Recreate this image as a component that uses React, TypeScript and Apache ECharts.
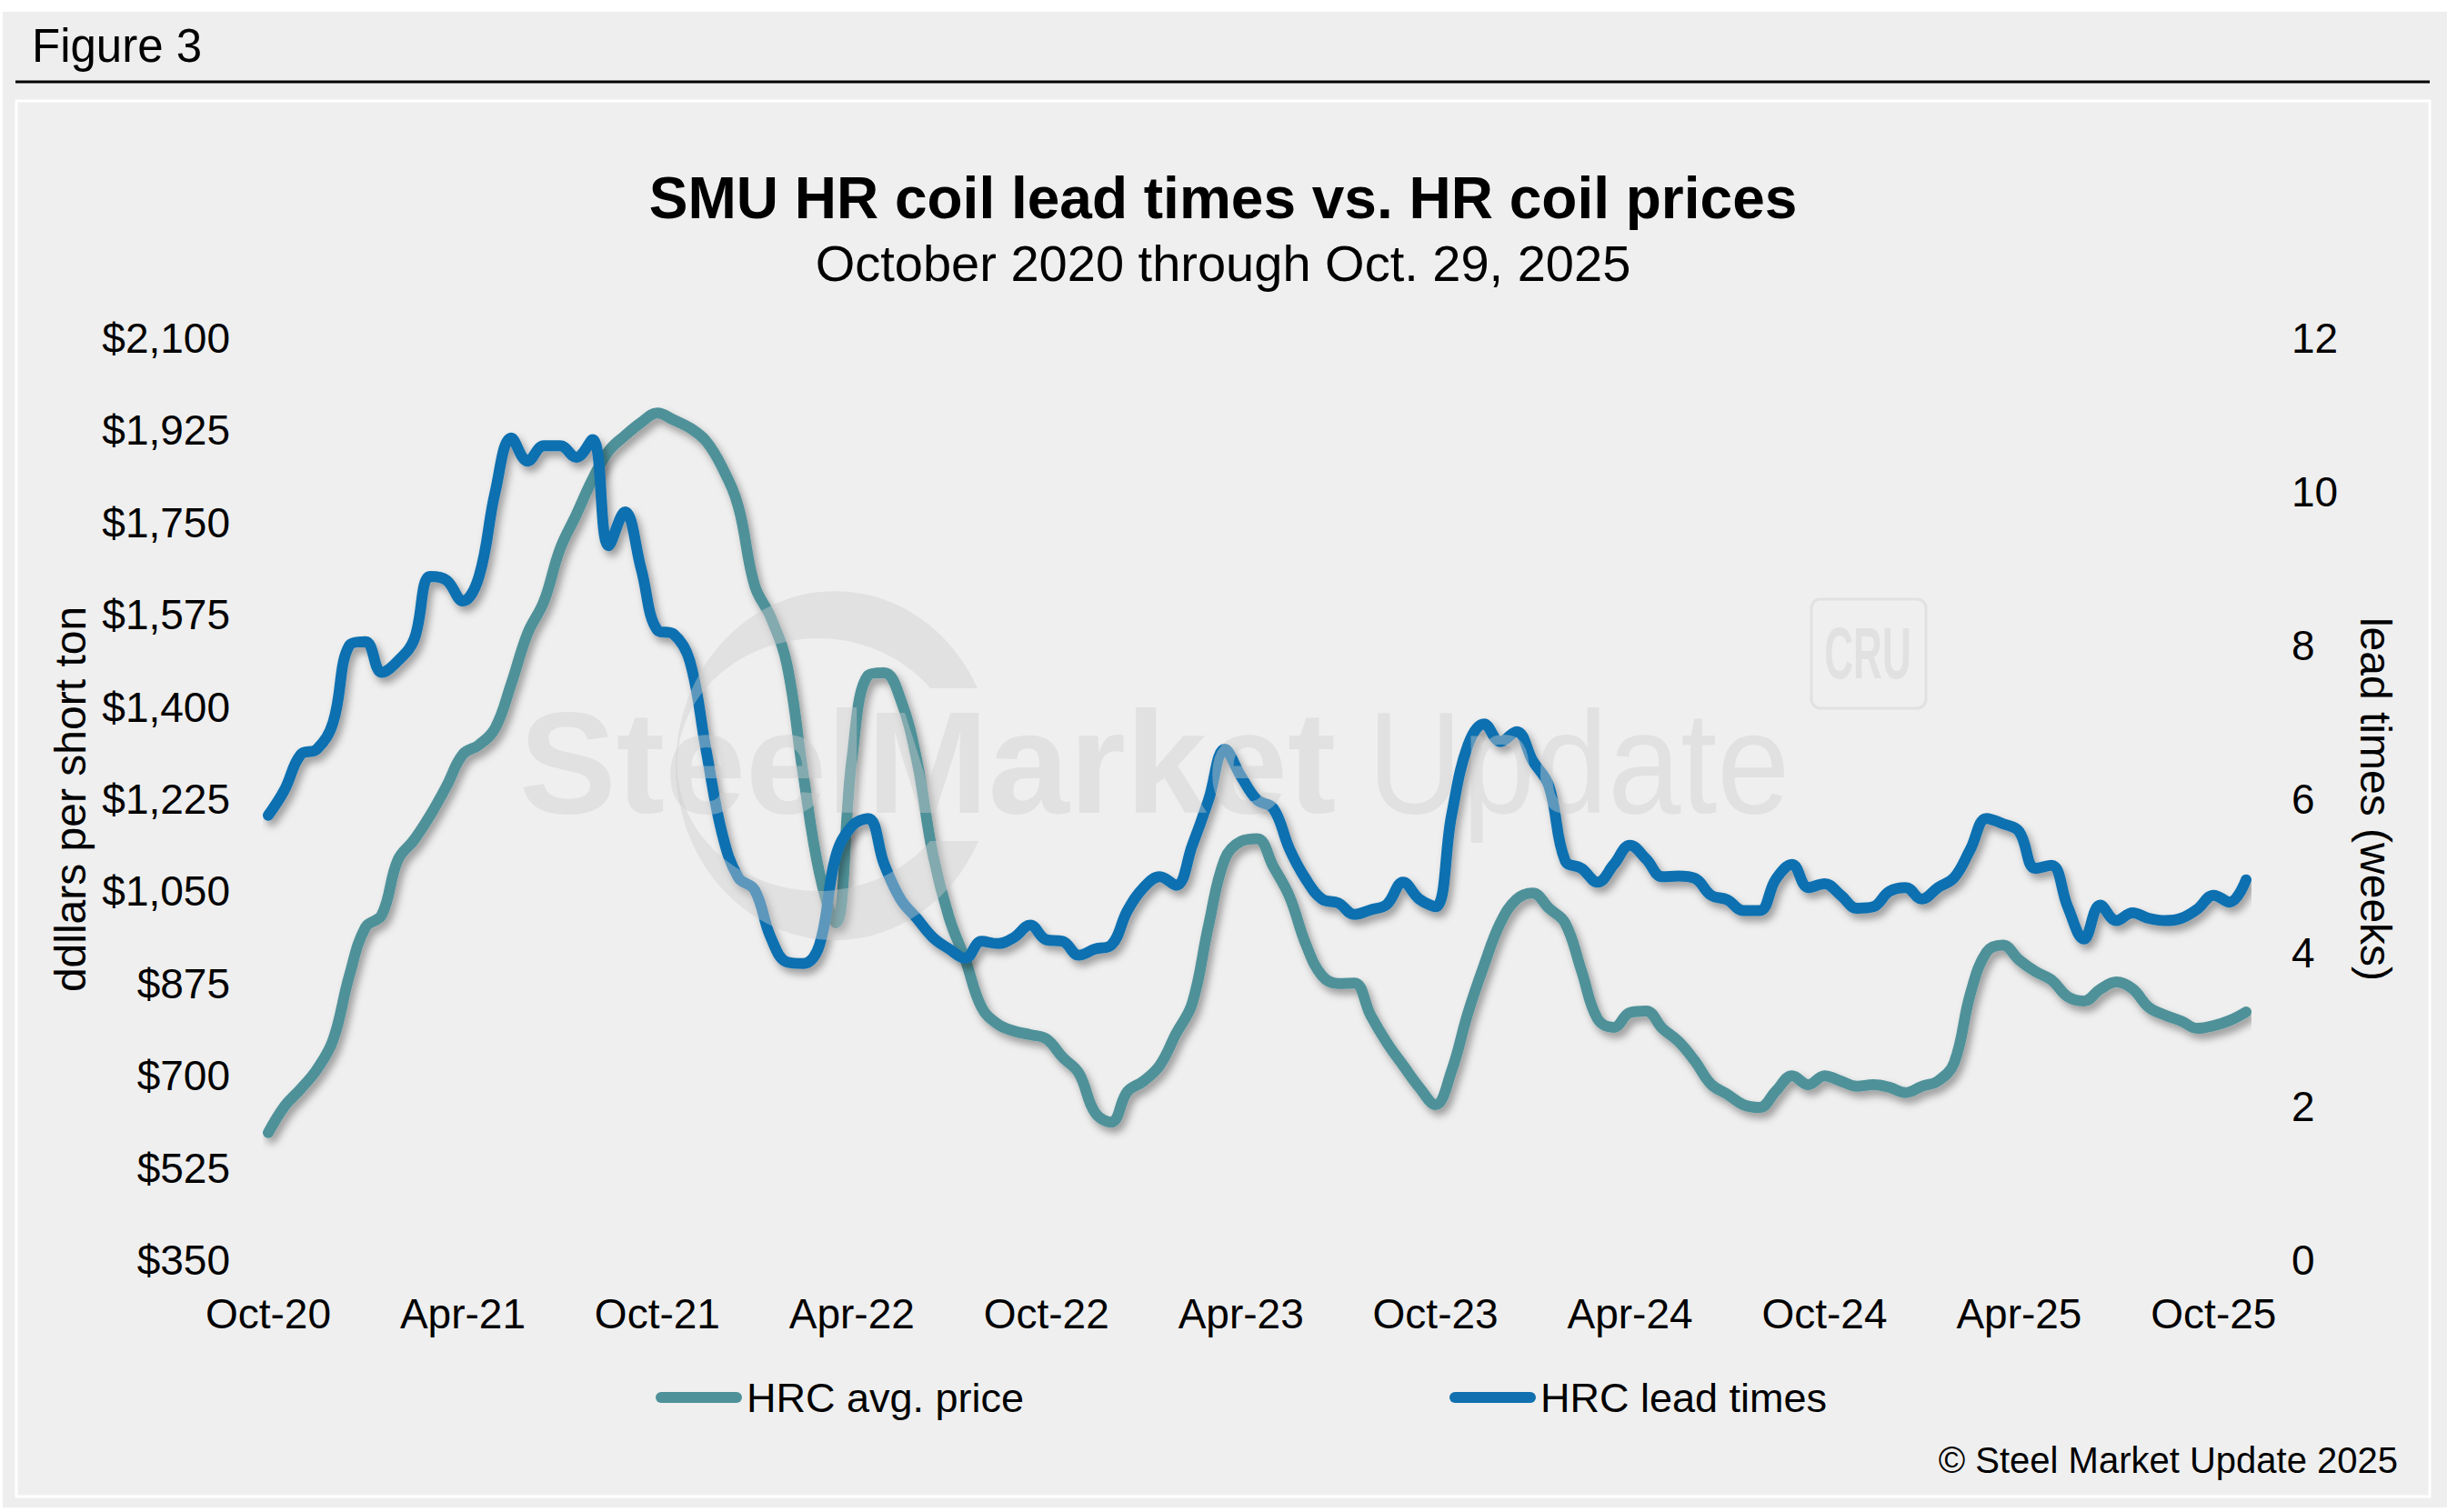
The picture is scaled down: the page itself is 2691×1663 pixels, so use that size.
import React, { useEffect, useRef } from 'react';
import * as echarts from 'echarts';

// readings every half month, first point Oct 2020, last Oct 29, 2025
const MONTH_STEP = 0.5;

const xTickLabels = [
  'Oct-20', 'Apr-21', 'Oct-21', 'Apr-22', 'Oct-22', 'Apr-23',
  'Oct-23', 'Apr-24', 'Oct-24', 'Apr-25', 'Oct-25',
];

// HRC avg. price, $/short ton
const hrcPrice = [
  592, 642, 675, 712, 768, 890, 982, 1005, 1110, 1148,
  1195, 1250, 1310, 1328, 1360, 1445, 1540, 1600, 1700, 1765,
  1832, 1886, 1915, 1940, 1958, 1945, 1930, 1905, 1855, 1780,
  1631, 1570, 1480, 1272, 1085, 990, 1300, 1460, 1465, 1415,
  1300, 1120, 1000, 920, 830, 798, 785, 778, 770, 735,
  705, 630, 612, 670, 690, 720, 780, 838, 985, 1111,
  1145, 1150, 1097, 1040, 950, 890, 875, 876, 815, 763,
  720, 678, 645, 710, 819, 910, 990, 1035, 1047, 1018,
  990, 900, 808, 792, 820, 823, 790, 765, 728, 684,
  665, 645, 640, 671, 700, 683, 700, 690, 680, 683,
  678, 668, 680, 690, 725, 856, 935, 948, 920, 898,
  882, 850, 842, 864, 878, 865, 830, 815, 804, 790,
  795, 805, 821,
];

// HRC lead times, weeks
const leadTimes = [
  5.79, 6.12, 6.58, 6.65, 7.0, 8.0, 8.05, 7.65, 7.8, 8.08,
  8.9, 8.85, 8.58, 8.9, 10.0, 10.7, 10.4, 10.6, 10.6, 10.45,
  10.68, 9.3, 9.74, 9.0, 8.2, 8.15, 7.8, 6.65, 5.55, 4.98,
  4.82, 4.2, 3.88, 3.86, 4.1, 5.25, 5.65, 5.75, 5.15, 4.7,
  4.45, 4.2, 4.05, 3.93, 4.15, 4.12, 4.2, 4.36, 4.17, 4.15,
  3.97, 4.05, 4.1, 4.55, 4.85, 4.99, 4.88, 5.4, 5.99, 6.65,
  6.3, 5.99, 5.88, 5.35, 4.96, 4.7, 4.65, 4.5, 4.56, 4.63,
  4.92, 4.7, 4.6, 5.8, 6.7, 6.98, 6.75, 6.88, 6.5, 6.17,
  5.2, 5.1, 4.92, 5.15, 5.4, 5.22, 4.99, 5.0, 4.97, 4.75,
  4.69, 4.55, 4.55, 4.96, 5.15, 4.85, 4.9, 4.75, 4.58, 4.6,
  4.8, 4.85, 4.7, 4.85, 4.98, 5.35, 5.75, 5.68, 5.58, 5.1,
  5.14, 4.6, 4.18, 4.62, 4.42, 4.52, 4.45, 4.42, 4.45, 4.57,
  4.75, 4.66, 4.95,
];

const FONT = '"Liberation Sans", Arial, Helvetica, sans-serif';
const PRICE_COLOR = '#4f9199';
const LEAD_COLOR = '#1070b0';
const WATERMARK = 'rgba(205, 205, 205, 0.42)';
const CAPSULE = 'path://M6 0H89A6 6 0 0 1 89 12H6A6 6 0 0 1 6 0Z';

// SMU logo swoosh behind the watermark text
const ringPath = 'M1075 757 A175 192 0 1 0 1076 925 L1023 925 A155 139 0 1 1 1023 757 Z';
echarts.graphic.registerShape('smuRing', echarts.graphic.extendPath(ringPath, {}));

const lineShadow = {
  shadowColor: 'rgba(0, 0, 0, 0.35)',
  shadowBlur: 8,
  shadowOffsetX: 4,
  shadowOffsetY: 6,
};

const App: React.FC = () => {
  const chartRef = useRef<HTMLDivElement>(null);

  useEffect(() => {
    if (!chartRef.current) return;
    const chart = echarts.init(chartRef.current, undefined, { renderer: 'svg' });

    const legendBase = {
      top: 1507,
      itemWidth: 95,
      itemHeight: 12,
      selectedMode: false,
      textStyle: { fontSize: 45, color: '#000', fontFamily: FONT, lineHeight: 50 },
    };

    const option: echarts.EChartsOption = {
      animation: false,
      backgroundColor: '#ffffff',
      textStyle: { fontFamily: FONT },
      grid: { left: 295, right: 221, top: 372, bottom: 277 },
      graphic: [
        { type: 'rect', z: -20, shape: { x: 3, y: 13, width: 2688, height: 1645 }, style: { fill: '#eeeeee' } },
        {
          type: 'rect', z: -19,
          shape: { x: 18, y: 111, width: 2654, height: 1535 },
          style: { fill: '#efefef', stroke: '#ffffff', lineWidth: 3 },
        },
        { type: 'line', z: -18, shape: { x1: 17, y1: 90, x2: 2672, y2: 90 }, style: { stroke: '#000', lineWidth: 3 } },
        {
          type: 'text', x: 35, y: 50,
          style: { text: 'Figure 3', fontSize: 51, fontFamily: FONT, fill: '#000', align: 'left', verticalAlign: 'middle' },
        },
        {
          type: 'text', x: 1345, y: 218,
          style: {
            text: 'SMU HR coil lead times vs. HR coil prices', fontSize: 64, fontWeight: 'bold',
            fontFamily: FONT, fill: '#000', align: 'center', verticalAlign: 'middle',
          },
        },
        {
          type: 'text', x: 1345, y: 289,
          style: {
            text: 'October 2020 through Oct. 29, 2025', fontSize: 56,
            fontFamily: FONT, fill: '#000', align: 'center', verticalAlign: 'middle',
          },
        },
        {
          type: 'text', x: 2637, y: 1606,
          style: {
            text: '© Steel Market Update 2025', fontSize: 40,
            fontFamily: FONT, fill: '#000', align: 'right', verticalAlign: 'middle',
          },
        },
        // watermark, drawn over the lines
        { type: 'smuRing', z: 50, style: { fill: WATERMARK } } as any,
        {
          type: 'text', z: 50, x: 571, y: 838,
          style: {
            text: 'SteelMarket', fontSize: 160, fontWeight: 'bold', fontFamily: FONT,
            fill: WATERMARK, align: 'left', verticalAlign: 'middle',
          },
        },
        {
          type: 'text', z: 50, x: 1504, y: 838, scaleX: 0.9,
          style: {
            text: 'Update', fontSize: 160, fontWeight: 'normal', fontFamily: FONT,
            fill: WATERMARK, align: 'left', verticalAlign: 'middle',
          },
        },
        {
          type: 'rect', z: 50,
          shape: { x: 1992, y: 659, width: 126, height: 120, r: 10 },
          style: { fill: 'none', stroke: WATERMARK, lineWidth: 3 },
        },
        {
          type: 'text', z: 50, x: 2054, y: 719, scaleX: 0.55,
          style: {
            text: 'CRU', fontSize: 80, fontWeight: 'bold', fontFamily: '"Liberation Sans Narrow", ' + FONT,
            fill: WATERMARK, align: 'center', verticalAlign: 'middle',
          },
        },
      ],
      legend: [
        { ...legendBase, left: 716, data: [{ name: 'HRC avg. price', icon: CAPSULE }] },
        { ...legendBase, left: 1589, data: [{ name: 'HRC lead times', icon: CAPSULE }] },
      ],
      xAxis: {
        type: 'value',
        min: 0,
        max: 61,
        interval: 6,
        axisLine: { show: false },
        axisTick: { show: false },
        splitLine: { show: false },
        axisLabel: {
          fontSize: 46,
          color: '#000',
          fontFamily: FONT,
          margin: 36,
          formatter: (v: number) => (Number.isInteger(v / 6) ? xTickLabels[v / 6] ?? '' : ''),
        },
      },
      yAxis: [
        {
          type: 'value',
          position: 'left',
          min: 350,
          max: 2100,
          interval: 175,
          name: 'ddllars per short ton',
          nameLocation: 'middle',
          nameGap: 194,
          nameRotate: 90,
          nameTextStyle: { fontSize: 48, color: '#000', fontFamily: FONT },
          axisLine: { show: false },
          axisTick: { show: false },
          splitLine: { show: false },
          axisLabel: {
            fontSize: 46,
            color: '#000',
            fontFamily: FONT,
            margin: 42,
            formatter: (v: number) => '$' + v.toLocaleString('en-US'),
          },
        },
        {
          type: 'value',
          position: 'right',
          min: 0,
          max: 12,
          interval: 2,
          name: 'lead times (weeks)',
          nameLocation: 'middle',
          nameGap: 118,
          nameRotate: -90,
          nameTextStyle: { fontSize: 48, color: '#000', fontFamily: FONT },
          axisLine: { show: false },
          axisTick: { show: false },
          splitLine: { show: false },
          axisLabel: { fontSize: 46, color: '#000', fontFamily: FONT, margin: 50 },
        },
      ],
      series: [
        {
          name: 'HRC avg. price',
          type: 'line',
          yAxisIndex: 0,
          data: hrcPrice.map((v, i) => [i * MONTH_STEP, v]),
          smooth: 0.4,
          symbol: 'none',
          itemStyle: { color: PRICE_COLOR },
          lineStyle: { color: PRICE_COLOR, width: 12, cap: 'round', join: 'round', ...lineShadow },
        },
        {
          name: 'HRC lead times',
          type: 'line',
          yAxisIndex: 1,
          data: leadTimes.map((v, i) => [i * MONTH_STEP, v]),
          smooth: 0.4,
          symbol: 'none',
          itemStyle: { color: LEAD_COLOR },
          lineStyle: { color: LEAD_COLOR, width: 12, cap: 'round', join: 'round', ...lineShadow },
        },
      ],
    };

    chart.setOption(option);

    return () => {
      chart.dispose();
    };
  }, []);

  return (
    <div
      ref={chartRef}
      style={{ position: 'absolute', left: 0, top: 0, width: 2691, height: 1663 }}
    />
  );
};

export default App;
